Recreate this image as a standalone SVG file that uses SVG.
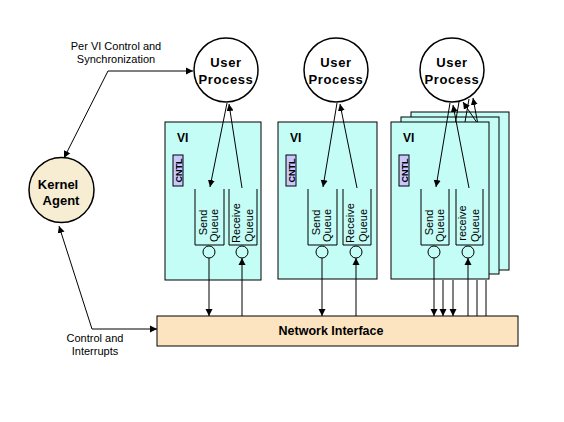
<svg xmlns="http://www.w3.org/2000/svg" width="564" height="422" viewBox="0 0 564 422">
<defs>
<marker id="ah" markerUnits="userSpaceOnUse" markerWidth="8" markerHeight="8" refX="7" refY="3.5" orient="auto-start-reverse" viewBox="0 0 8 7">
<path d="M0,0 L7,3.5 L0,7 z" fill="#000"/>
</marker>
<style>
.vi{fill:#c4fcf6;stroke:#000;stroke-width:1}
.q{fill:none;stroke:#000;stroke-width:1}
.qc{fill:none;stroke:#000;stroke-width:1}
.cntl{fill:#c8c8ff;stroke:#000;stroke-width:1}
.proc{fill:#fff;stroke:#000;stroke-width:1.5}
.ln{fill:none;stroke:#000;stroke-width:1}
.arr{fill:none;stroke:#000;stroke-width:1;marker-end:url(#ah)}
.b{font-family:"Liberation Sans",Arial,sans-serif;font-weight:bold;fill:#000}
.r{font-family:"Liberation Sans",Arial,sans-serif;fill:#000}
.qt{font-family:"Liberation Sans",Arial,sans-serif;fill:#000;font-size:11px;text-anchor:middle}
</style>
</defs>
<rect width="564" height="422" fill="#fff"/>

<g id="vi3-back">
<rect class="vi" x="411" y="112" width="98" height="158"/>
</g>
<g id="vi3-mid">
<rect class="vi" x="401" y="117" width="98" height="157"/>
</g>

<g id="vi1">
<rect class="vi" x="165" y="122" width="96" height="158"/>
<text class="b" x="177" y="142" font-size="12">VI</text>
<rect class="cntl" x="173" y="155" width="10" height="31"/>
<text class="b" font-size="9" transform="translate(181.5,170.5) rotate(-90)" text-anchor="middle">CNTL</text>
<path class="q" d="M195,189 V245 H224 V189"/>
<path class="q" d="M229,189 V245 H257 V189"/>
<text class="qt" transform="translate(207,222.5) rotate(-90)">Send</text>
<text class="qt" transform="translate(217.5,225.5) rotate(-90)">Queue</text>
<text class="qt" transform="translate(240,223) rotate(-90)">Receive</text>
<text class="qt" transform="translate(252.5,225.5) rotate(-90)">Queue</text>
<circle class="qc" cx="209" cy="252" r="6"/>
<circle class="qc" cx="242" cy="252" r="6"/>
</g>

<g id="vi2" transform="translate(113,0)">
<rect class="vi" x="165" y="122" width="99" height="157"/>
<text class="b" x="177" y="142" font-size="12">VI</text>
<rect class="cntl" x="173" y="155" width="10" height="31"/>
<text class="b" font-size="9" transform="translate(181.5,170.5) rotate(-90)" text-anchor="middle">CNTL</text>
<path class="q" d="M195,189 V245 H224 V189"/>
<path class="q" d="M230,189 V245 H258 V189"/>
<text class="qt" transform="translate(207,222.5) rotate(-90)">Send</text>
<text class="qt" transform="translate(217.5,225.5) rotate(-90)">Queue</text>
<text class="qt" transform="translate(241,223) rotate(-90)">Receive</text>
<text class="qt" transform="translate(253.5,225.5) rotate(-90)">Queue</text>
<circle class="qc" cx="209" cy="252" r="6"/>
<circle class="qc" cx="243" cy="252" r="6"/>
</g>

<g id="vi3" transform="translate(226,0)">
<rect class="vi" x="165" y="122" width="98" height="157"/>
<text class="b" x="177" y="142" font-size="12">VI</text>
<rect class="cntl" x="173" y="155" width="10" height="31"/>
<text class="b" font-size="9" transform="translate(181.5,170.5) rotate(-90)" text-anchor="middle">CNTL</text>
<path class="q" d="M195,189 V245 H223 V189"/>
<path class="q" d="M230,189 V245 H257 V189"/>
<text class="qt" transform="translate(207,222.5) rotate(-90)">Send</text>
<text class="qt" transform="translate(217.5,225.5) rotate(-90)">Queue</text>
<text class="qt" transform="translate(240,223) rotate(-90)">receive</text>
<text class="qt" transform="translate(252.5,225.5) rotate(-90)">Queue</text>
<circle class="qc" cx="208" cy="252" r="6"/>
<circle class="qc" cx="242" cy="252" r="6"/>
</g>

<g id="network-interface">
<rect x="157" y="316" width="361" height="30" fill="#fce4c0" stroke="#000" stroke-width="1"/>
<text class="b" x="331" y="335" font-size="12.5" text-anchor="middle">Network Interface</text>
</g>

<g id="connectors">
<path class="arr" d="M227,103 L210,187"/>
<path class="arr" d="M242,188 L229,104"/>
<path class="arr" d="M209,258 V316"/>
<path class="arr" d="M242,316 V258"/>
<path class="arr" d="M337,103 L323,187"/>
<path class="arr" d="M357,188 L340,104"/>
<path class="arr" d="M322,258 V316"/>
<path class="arr" d="M356,316 V258"/>
<path class="ln" d="M459,102 L455.5,122"/>
<path class="ln" d="M469,99 L465,122"/>
<path class="arr" d="M476.5,122 L463,102"/>
<path class="arr" d="M477.5,122 L473,98"/>
<path class="arr" d="M450,103 L436,187"/>
<path class="arr" d="M469,188 L453,105"/>
<path class="arr" d="M434,258 V316"/>
<path class="arr" d="M443,280 V316"/>
<path class="arr" d="M453,280 V316"/>
<path class="arr" d="M468,316 V258"/>
<path class="ln" d="M477,316 V280"/>
<path class="ln" d="M486,316 V280"/>
<path class="ln" d="M193,71 H108 L64,158" marker-start="url(#ah)" marker-end="url(#ah)"/>
<path class="ln" d="M59,226 L92,329 H157" marker-start="url(#ah)" marker-end="url(#ah)"/>
</g>

<g id="user-process-1">
<circle class="proc" cx="226" cy="70" r="32"/>
<text class="b" x="226" y="67" font-size="13" letter-spacing="0.6" text-anchor="middle">User</text>
<text class="b" x="226" y="84" font-size="13" letter-spacing="0.6" text-anchor="middle">Process</text>
</g>
<g id="user-process-2">
<circle class="proc" cx="336" cy="70" r="32"/>
<text class="b" x="336" y="67" font-size="13" letter-spacing="0.6" text-anchor="middle">User</text>
<text class="b" x="336" y="84" font-size="13" letter-spacing="0.6" text-anchor="middle">Process</text>
</g>
<g id="user-process-3">
<circle class="proc" cx="452" cy="70" r="32"/>
<text class="b" x="452" y="67" font-size="13" letter-spacing="0.6" text-anchor="middle">User</text>
<text class="b" x="452" y="84" font-size="13" letter-spacing="0.6" text-anchor="middle">Process</text>
</g>

<g id="kernel-agent">
<circle cx="61.5" cy="190" r="32.5" fill="#f6edd2" stroke="#000" stroke-width="1.5"/>
<text class="b" x="58" y="189" font-size="13" text-anchor="middle">Kernel</text>
<text class="b" x="61" y="205" font-size="13" text-anchor="middle">Agent</text>
</g>

<g id="labels">
<text class="r" x="116" y="50" font-size="11" text-anchor="middle">Per VI Control and</text>
<text class="r" x="116" y="63" font-size="11" text-anchor="middle">Synchronization</text>
<text class="r" x="95" y="342" font-size="11" text-anchor="middle">Control and</text>
<text class="r" x="95" y="355" font-size="11" text-anchor="middle">Interrupts</text>
</g>
</svg>
